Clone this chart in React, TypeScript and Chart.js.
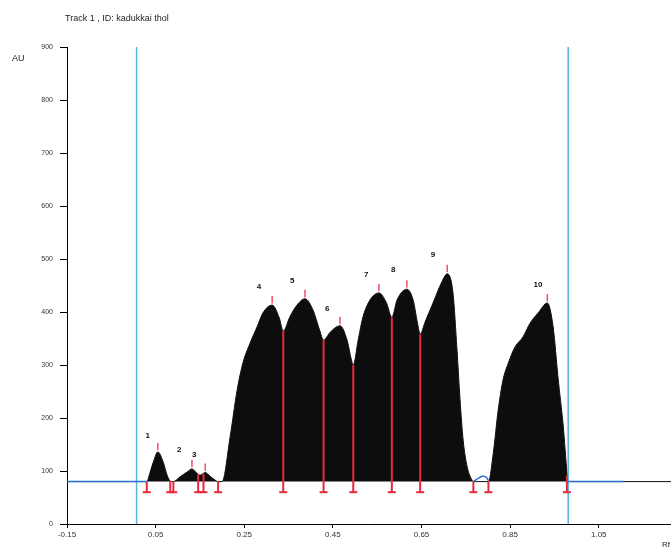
import React, { useEffect, useRef } from "react";
import { Chart, registerables } from "chart.js";

Chart.register(...registerables);

const titleText = "Track 1 , ID: kadukkai thol";
const yAxisLabel = "AU";
const xAxisLabel = "Rf";

const yMin = 0;
const yMax = 900;
const xMin = -0.15;
const xMax = 1.213;

const yTickValues = [0, 100, 200, 300, 400, 500, 600, 700, 800, 900];
const xTickValues = [-0.15, 0.05, 0.25, 0.45, 0.65, 0.85, 1.05];
const xTickLabels = ["-0.15", "0.05", "0.25", "0.45", "0.65", "0.85", "1.05"];

// densitogram signal (Rf, AU)
const signalRf = [
  -0.15, 0.030, 0.037, 0.044, 0.055, 0.067, 0.076, 0.083, 0.090, 0.105, 0.121, 0.132,
  0.143, 0.150, 0.162, 0.173, 0.184, 0.191, 0.200, 0.218, 0.234, 0.247, 0.263, 0.279,
  0.292, 0.313, 0.329, 0.338, 0.353, 0.369, 0.387, 0.405, 0.420, 0.429, 0.444, 0.466,
  0.482, 0.492, 0.496, 0.507, 0.518, 0.534, 0.554, 0.571, 0.583, 0.595, 0.617, 0.631,
  0.641, 0.647, 0.658, 0.676, 0.696, 0.708, 0.721, 0.730, 0.737, 0.744, 0.753, 0.762,
  0.768, 0.801, 0.812, 0.823, 0.834, 0.846, 0.861, 0.879, 0.895, 0.913, 0.934, 0.947,
  0.958, 0.970, 0.978, 0.981, 1.213,
];
const signalAU = [
  80, 80, 96, 115, 136, 117, 92, 81, 80, 89, 98, 104,
  96, 92, 97, 90, 83, 80, 80, 164, 253, 304, 341, 372,
  398, 413, 389, 364, 391, 413, 425, 404, 366, 347, 362, 374,
  347, 309, 300, 347, 391, 423, 436, 417, 390, 423, 443, 423,
  379, 358, 381, 417, 457, 472, 436, 330, 234, 158, 108, 86,
  80, 80, 134, 215, 272, 304, 334, 353, 379, 398, 417, 372,
  277, 183, 100, 80, 80,
];

// integration baseline (blue)
const baselineAU = 80;
const baselineStartRf = [-0.15, 0.981];
const baselineEndRf = [0.030, 1.105];
const bumpRf = [0.768, 0.778, 0.787, 0.795, 0.801];
const bumpAU = [81, 86, 90, 89, 82];

// application position and solvent front
const frontRf = [0.007, 0.981];

// peak boundaries (red markers)
const boundaryRf = [0.030, 0.083, 0.090, 0.146, 0.158, 0.191, 0.338, 0.429, 0.496, 0.583, 0.647, 0.767, 0.801, 0.978];
const boundaryAU = [80, 81, 80, 95, 95, 80, 364, 347, 300, 390, 358, 80, 80, 92];
const markerFootAU = 60;

// peak maxima
const peakNames = ["1", "2", "3", "4", "5", "6", "7", "8", "9", "10"];
const peakRf = [0.055, 0.132, 0.162, 0.313, 0.387, 0.466, 0.554, 0.617, 0.708, 0.934];
const peakAU = [136, 104, 97, 413, 425, 374, 436, 443, 472, 417];
const labelRf = [0.032, 0.103, 0.137, 0.283, 0.358, 0.437, 0.525, 0.586, 0.676, 0.913];
const labelAU = [166, 140, 130, 447, 458, 406, 470, 479, 508, 451];

const FONT = '"Liberation Sans", Arial, sans-serif';

export default function App() {
  const ref = useRef<HTMLCanvasElement>(null);

  useEffect(() => {
    const canvas = ref.current;
    if (!canvas) return;

    const signal = signalRf.map((r, i) => ({ x: r, y: signalAU[i] }));

    const baseline: any[] = [];
    baselineStartRf.forEach((s, i) => {
      baseline.push({ x: s, y: baselineAU }, { x: baselineEndRf[i], y: baselineAU }, { x: baselineEndRf[i], y: null });
    });
    bumpRf.forEach((r, i) => baseline.push({ x: r, y: bumpAU[i] }));

    const fronts: any[] = [];
    frontRf.forEach((r) => fronts.push({ x: r, y: yMin }, { x: r, y: yMax }, { x: r, y: null }));

    const markers: any[] = [];
    boundaryRf.forEach((r, i) => markers.push({ x: r, y: boundaryAU[i] }, { x: r, y: markerFootAU }, { x: r, y: null }));
    const feet = boundaryRf.map((r) => ({ x: r, y: markerFootAU }));

    const tops: any[] = [];
    peakRf.forEach((r, i) => tops.push({ x: r, y: peakAU[i] + 3 }, { x: r, y: peakAU[i] + 17 }, { x: r, y: null }));

    const textPlugin = {
      id: "texts",
      afterDraw(chart: any) {
        const { ctx, scales } = chart;
        const xs = scales.x;
        const ys = scales.y;
        ctx.save();
        ctx.fillStyle = "#222";
        ctx.textBaseline = "middle";
        ctx.textAlign = "left";
        ctx.font = `9px ${FONT}`;
        ctx.fillText(titleText, 65, 19);
        ctx.fillText(yAxisLabel, 12, 59);
        ctx.font = `8px ${FONT}`;
        ctx.fillText(xAxisLabel, 662, 545);
        ctx.textAlign = "center";
        ctx.font = `bold 8px ${FONT}`;
        ctx.fillStyle = "#111";
        peakNames.forEach((n, i) => {
          ctx.fillText(n, xs.getPixelForValue(labelRf[i]), ys.getPixelForValue(labelAU[i]));
        });
        ctx.restore();
      },
    };

    const chart = new Chart(canvas, {
      type: "line",
      data: {
        datasets: [
          {
            data: baseline,
            borderColor: "#2f72d4",
            borderWidth: 1.5,
            pointRadius: 0,
            spanGaps: false,
            tension: 0.4,
            order: 0,
          } as any,
          {
            data: markers,
            borderColor: "#e8283c",
            borderWidth: 2,
            pointRadius: 0,
            spanGaps: false,
            order: 1,
          },
          {
            data: feet,
            showLine: false,
            pointStyle: "line",
            pointRadius: 4,
            pointBorderWidth: 2,
            pointBorderColor: "#e8283c",
            pointBackgroundColor: "#e8283c",
            order: 1,
          },
          {
            data: tops,
            borderColor: "#f0506a",
            borderWidth: 1.5,
            pointRadius: 0,
            spanGaps: false,
            order: 2,
          },
          {
            data: fronts,
            borderColor: "#58b4dc",
            borderWidth: 1.5,
            pointRadius: 0,
            spanGaps: false,
            order: 3,
          },
          {
            data: signal,
            borderColor: "#111",
            borderWidth: 1,
            backgroundColor: "#0d0d0d",
            fill: { value: baselineAU },
            pointRadius: 0,
            cubicInterpolationMode: "monotone",
            order: 5,
          } as any,
        ],
      },
      options: {
        responsive: false,
        devicePixelRatio: 1,
        animation: false,
        layout: { autoPadding: false, padding: { top: 47, left: 0, right: 0, bottom: 0 } },
        plugins: {
          legend: { display: false },
          tooltip: { enabled: false },
          title: { display: false },
        },
        scales: {
          x: {
            type: "linear",
            min: xMin,
            max: xMax,
            afterBuildTicks: (s: any) => {
              s.ticks = xTickValues.map((v) => ({ value: v }));
            },
            afterFit: (s: any) => {
              s.height = 24;
            },
            ticks: {
              autoSkip: false,
              maxRotation: 0,
              padding: 2,
              color: "#333",
              font: { size: 8, family: FONT },
              callback: (v: any) => {
                const i = xTickValues.findIndex((t) => Math.abs(t - v) < 1e-6);
                return i >= 0 ? xTickLabels[i] : "";
              },
            },
            grid: { drawOnChartArea: false, drawTicks: true, tickLength: 4, color: "#000", tickColor: "#000" },
            border: { display: true, color: "#000", width: 1 },
          },
          y: {
            type: "linear",
            min: yMin,
            max: yMax,
            afterBuildTicks: (s: any) => {
              s.ticks = yTickValues.map((v) => ({ value: v }));
            },
            afterFit: (s: any) => {
              s.width = 67;
            },
            ticks: {
              autoSkip: false,
              padding: 7,
              color: "#333",
              font: { size: 7, family: FONT },
            },
            grid: { drawOnChartArea: false, drawTicks: true, tickLength: 7, color: "#000", tickColor: "#000" },
            border: { display: true, color: "#000", width: 1 },
          },
        },
      },
      plugins: [textPlugin],
    } as any);

    return () => chart.destroy();
  }, []);

  return (
    <div style={{ position: "fixed", left: 0, top: 0, width: 671, height: 548, background: "#fff" }}>
      <canvas ref={ref} width={671} height={548} style={{ display: "block", width: 671, height: 548 }} />
    </div>
  );
}
